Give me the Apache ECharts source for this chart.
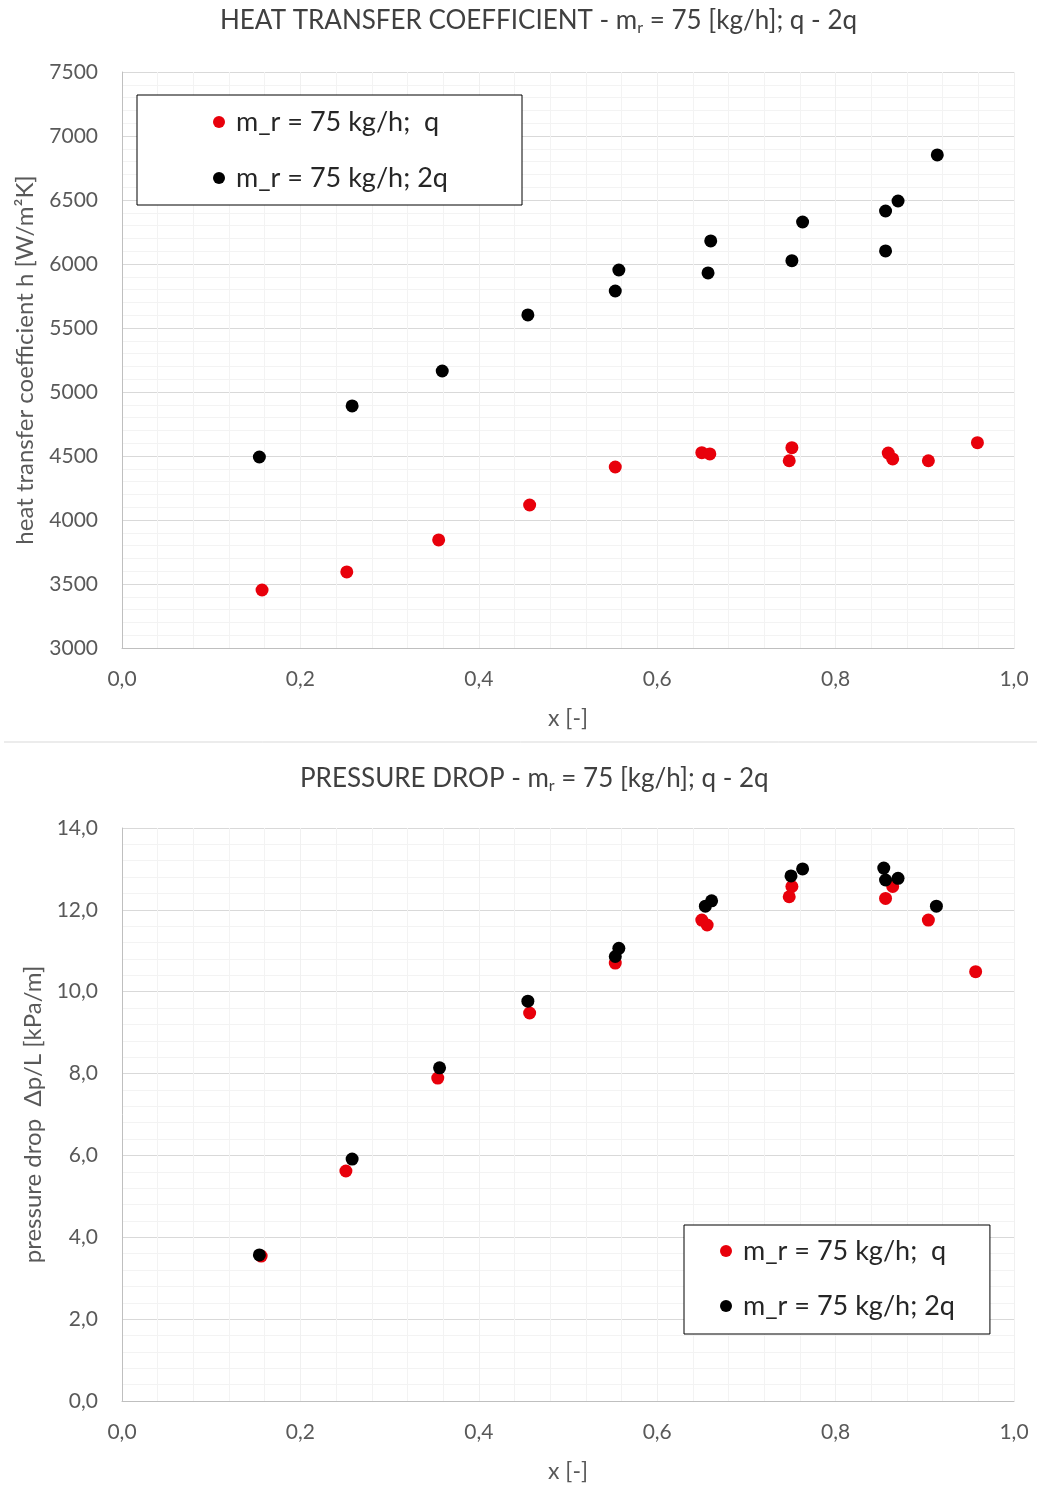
<!DOCTYPE html>
<html>
<head>
<meta charset="utf-8">
<script src="https://cdn.jsdelivr.net/npm/echarts@6/dist/echarts.min.js"></script>
<style>
html,body{margin:0;padding:0;background:#fff;}
#c{width:1037px;height:1488px;}
</style>
</head>
<body>
<div id="c"></div>
<script>
// ---- data ----
const seriesNames = ['m_r = 75 kg/h;  q', 'm_r = 75 kg/h; 2q'];
// Heat transfer coefficient, q
const heatQ_x = [0.157, 0.252, 0.355, 0.457, 0.553, 0.650, 0.659, 0.748, 0.751, 0.859, 0.864, 0.904, 0.959];
const heatQ_y = [3453, 3594, 3844, 4117, 4414, 4526, 4516, 4463, 4565, 4523, 4477, 4463, 4604];
// Heat transfer coefficient, 2q
const heat2Q_x = [0.154, 0.258, 0.359, 0.455, 0.553, 0.557, 0.657, 0.660, 0.751, 0.763, 0.856, 0.856, 0.870, 0.914];
const heat2Q_y = [4492, 4891, 5164, 5602, 5789, 5953, 5930, 6180, 6026, 6328, 6102, 6414, 6492, 6852];
// Pressure drop, q
const dpQ_x = [0.156, 0.251, 0.354, 0.457, 0.553, 0.650, 0.656, 0.748, 0.751, 0.856, 0.864, 0.904, 0.957];
const dpQ_y = [3.54, 5.62, 7.89, 9.48, 10.70, 11.75, 11.63, 12.32, 12.57, 12.28, 12.57, 11.75, 10.49];
// Pressure drop, 2q
const dp2Q_x = [0.154, 0.258, 0.356, 0.455, 0.553, 0.557, 0.654, 0.661, 0.750, 0.763, 0.854, 0.856, 0.870, 0.913];
const dp2Q_y = [3.57, 5.91, 8.14, 9.77, 10.86, 11.06, 12.09, 12.22, 12.83, 13.00, 13.02, 12.73, 12.77, 12.09];

const zip = (xs, ys) => xs.map((x, i) => [x, ys[i]]);

const FONT = 'Lato';
const tickColor = '#595959';
const RED = '#e8000b';
const BLACK = '#000000';

function xAxisCfg(gi) {
  return {
    type: 'value', gridIndex: gi, min: 0, max: 1, interval: 0.2,
    name: 'x [-]', nameLocation: 'middle', nameGap: 59,
    nameTextStyle: { fontFamily: FONT, fontSize: 23, color: tickColor },
    axisLine: { show: true, lineStyle: { color: '#bfbfbf', width: 1 } },
    axisTick: { show: false },
    axisLabel: { fontFamily: FONT, fontSize: 21, color: tickColor, margin: 21,
      formatter: v => v.toFixed(1).replace('.', ',') },
    splitLine: { show: true, lineStyle: { color: '#f0f0f0', width: 1 } },
    minorTick: { show: false, splitNumber: 5 },
    minorSplitLine: { show: true, lineStyle: { color: '#f3f3f3', width: 1 } }
  };
}
function yAxisCfg(gi, min, max, interval, name, gap, fmt) {
  return {
    type: 'value', gridIndex: gi, min: min, max: max, interval: interval,
    name: name, nameLocation: 'middle', nameGap: gap, nameRotate: 90,
    nameTextStyle: { fontFamily: FONT, fontSize: 24, color: tickColor },
    axisLine: { show: true, lineStyle: { color: '#bfbfbf', width: 1 } },
    axisTick: { show: false },
    axisLabel: { fontFamily: FONT, fontSize: 21, color: tickColor, margin: 24, formatter: fmt },
    splitLine: { show: true, lineStyle: { color: '#d9d9d9', width: 1 } },
    minorTick: { show: false, splitNumber: 5 },
    minorSplitLine: { show: true, lineStyle: { color: '#f3f3f3', width: 1 } }
  };
}
function legendCfg(left, top, padding, textW, gap) {
  return {
    left: left, top: top, orient: 'vertical',
    data: seriesNames, icon: 'circle',
    itemWidth: 24, itemHeight: 12, itemGap: gap,
    padding: padding,
    borderColor: '#000', borderWidth: 1, borderRadius: 0,
    backgroundColor: '#fff',
    selectedMode: false,
    textStyle: { fontFamily: FONT, fontSize: 27, color: '#262626', lineHeight: 30, width: textW }
  };
}
const titleRich = {
  a: { fontFamily: FONT, fontSize: 26, fontWeight: 'normal', color: '#404040', lineHeight: 30 },
  s: { fontFamily: FONT, fontSize: 16, fontWeight: 'normal', color: '#404040', lineHeight: 13, verticalAlign: 'bottom' }
};

const option = {
  backgroundColor: '#fff',
  animation: false,
  title: [
    { left: 220, top: 6, padding: 0, text: '{a|HEAT TRANSFER COEFFICIENT - m}{s|r}{a| = 75 [kg/h]; q - 2q}',
      textStyle: { fontWeight: 'normal', rich: titleRich } },
    { left: 300, top: 764, padding: 0, text: '{a|PRESSURE DROP - m}{s|r}{a| = 75 [kg/h]; q - 2q}',
      textStyle: { fontWeight: 'normal', rich: titleRich } }
  ],
  legend: [
    legendCfg(137, 95, [12, 36, 12, 76], 250, 26),
    legendCfg(684, 1225, [11, 35, 13, 36], 200, 25)
  ],
  grid: [
    { left: 122, right: 23, top: 72, height: 576 },
    { left: 122, right: 23, top: 828, height: 573 }
  ],
  xAxis: [xAxisCfg(0), xAxisCfg(1)],
  yAxis: [
    yAxisCfg(0, 3000, 7500, 500, 'heat transfer coefficient h [W/m²K]', 85, v => String(v)),
    yAxisCfg(1, 0, 14, 2, 'pressure drop  Δp/L [kPa/m]', 77, v => v.toFixed(1).replace('.', ','))
  ],
  graphic: [
    { type: 'line', shape: { x1: 4, y1: 742, x2: 1037, y2: 742 },
      style: { stroke: '#d9d9d9', lineWidth: 1 }, silent: true }
  ],
  series: [
    { name: seriesNames[0], type: 'scatter', xAxisIndex: 0, yAxisIndex: 0, symbolSize: 13,
      itemStyle: { color: RED, opacity: 1 }, data: zip(heatQ_x, heatQ_y) },
    { name: seriesNames[1], type: 'scatter', xAxisIndex: 0, yAxisIndex: 0, symbolSize: 13,
      itemStyle: { color: BLACK, opacity: 1 }, data: zip(heat2Q_x, heat2Q_y) },
    { name: seriesNames[0], type: 'scatter', xAxisIndex: 1, yAxisIndex: 1, symbolSize: 13,
      itemStyle: { color: RED, opacity: 1 }, data: zip(dpQ_x, dpQ_y) },
    { name: seriesNames[1], type: 'scatter', xAxisIndex: 1, yAxisIndex: 1, symbolSize: 13,
      itemStyle: { color: BLACK, opacity: 1 }, data: zip(dp2Q_x, dp2Q_y) }
  ]
};
const chart = echarts.init(document.getElementById('c'), null, { renderer: 'canvas' });
chart.setOption(option);
</script>
</body>
</html>
